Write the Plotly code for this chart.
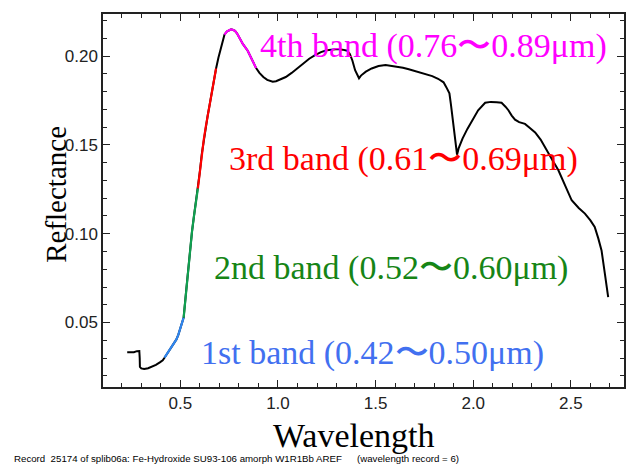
import plotly.graph_objects as go

# ---- data ----
wavelength = [
    0.228, 0.245, 0.262, 0.278, 0.290, 0.292, 0.293, 0.300, 0.315, 0.335,
    0.355, 0.375, 0.395, 0.410, 0.419, 0.430, 0.445, 0.460, 0.470, 0.480,
    0.490, 0.500, 0.510, 0.517, 0.530, 0.540, 0.550, 0.560, 0.570, 0.580,
    0.590, 0.600, 0.610, 0.620, 0.630, 0.640, 0.650, 0.660, 0.670, 0.683,
    0.695, 0.705, 0.715, 0.726, 0.738, 0.750, 0.760, 0.768, 0.780, 0.790,
    0.800, 0.820, 0.845, 0.865, 0.888, 0.905, 0.925, 0.945, 0.960, 0.973,
    0.990, 1.010, 1.040, 1.070, 1.100, 1.130, 1.160, 1.190, 1.220, 1.250,
    1.280, 1.306, 1.330, 1.355, 1.368, 1.381, 1.395, 1.408, 1.415, 1.425,
    1.450, 1.480, 1.515, 1.551, 1.580, 1.610, 1.640, 1.670, 1.700, 1.730,
    1.760, 1.790, 1.820, 1.848, 1.862, 1.878, 1.886, 1.894, 1.902, 1.910,
    1.917, 1.925, 1.945, 1.970, 1.995, 2.025, 2.061, 2.090, 2.120, 2.145,
    2.165, 2.180, 2.197, 2.214, 2.235, 2.265, 2.290, 2.317, 2.345, 2.368,
    2.400, 2.436, 2.470, 2.504, 2.540, 2.572, 2.600, 2.622, 2.640, 2.657,
    2.674, 2.691,
]
reflectance = [
    0.0333, 0.0331, 0.0333, 0.0339, 0.0340, 0.0300, 0.0250, 0.0242, 0.0238, 0.0243,
    0.0252, 0.0262, 0.0276, 0.0288, 0.0302, 0.0322, 0.0348, 0.0375, 0.0392, 0.0405,
    0.0432, 0.0470, 0.0500, 0.0528, 0.0680, 0.0800, 0.0915, 0.1015, 0.1100, 0.1180,
    0.1255, 0.1350, 0.1450, 0.1530, 0.1600, 0.1665, 0.1725, 0.1790, 0.1850, 0.1930,
    0.1990, 0.2030, 0.2075, 0.2120, 0.2138, 0.2145, 0.2150, 0.2148, 0.2142, 0.2128,
    0.2108, 0.2068, 0.2030, 0.1985, 0.1932, 0.1905, 0.1882, 0.1866, 0.1858, 0.1855,
    0.1858, 0.1866, 0.1882, 0.1905, 0.1932, 0.1958, 0.1985, 0.2005, 0.2022, 0.2032,
    0.2038, 0.2040, 0.2036, 0.2030, 0.2012, 0.1975, 0.1920, 0.1885, 0.1875, 0.1890,
    0.1912, 0.1930, 0.1944, 0.1950, 0.1946, 0.1940, 0.1934, 0.1926, 0.1917, 0.1907,
    0.1897, 0.1887, 0.1872, 0.1852, 0.1825, 0.1790, 0.1725, 0.1658, 0.1580, 0.1500,
    0.1445, 0.1480, 0.1535, 0.1590, 0.1640, 0.1695, 0.1737, 0.1742, 0.1740, 0.1737,
    0.1715, 0.1695, 0.1665, 0.1642, 0.1628, 0.1618, 0.1595, 0.1570, 0.1530, 0.1489,
    0.1425, 0.1357, 0.1275, 0.1188, 0.1145, 0.1113, 0.1075, 0.1038, 0.0975, 0.0906,
    0.0775, 0.0643,
]

# highlighted stretches of the curve, as drawn in the reference
segment_names = ["1st band", "2nd band", "3rd band", "4th band"]
segment_start = [0.419, 0.517, 0.590, 0.726]
segment_end = [0.517, 0.590, 0.683, 0.888]

band_labels = [
    "1st band (0.42〜0.50μm)",
    "2nd band (0.52〜0.60μm)",
    "3rd band (0.61〜0.69μm)",
    "4th band (0.76〜0.89μm)",
]
label_x = [0.597, 0.664, 0.741, 0.896]
label_y = [0.0330, 0.0808, 0.1420, 0.2054]

x_ticks = [0.5, 1.0, 1.5, 2.0, 2.5]
y_ticks = [0.05, 0.10, 0.15, 0.20]

caption_left = "Record  25174 of splib06a: Fe-Hydroxide SU93-106 amorph W1R1Bb AREF"
caption_right = "(wavelength record = 6)"

# ---- styles ----
line_colors = ["#2f86f0", "#10a050", "#ff0000", "#ff00ff"]
text_colors = ["#4270f0", "#168516", "#ff0000", "#ff00ff"]
SERIF = "Liberation Serif, Times New Roman, serif"
SANS = "Liberation Sans, Arial, sans-serif"

fig = go.Figure()
fig.add_trace(go.Scatter(x=wavelength, y=reflectance, mode="lines",
                         line=dict(color="black", width=2), showlegend=False,
                         hoverinfo="skip"))
for name, lo, hi, col in zip(segment_names, segment_start, segment_end, line_colors):
    xs = [w for w in wavelength if lo <= w <= hi]
    ys = [r for w, r in zip(wavelength, reflectance) if lo <= w <= hi]
    fig.add_trace(go.Scatter(x=xs, y=ys, mode="lines", name=name,
                             line=dict(color=col, width=2.2), showlegend=False))

for txt, lx, ly, col in zip(band_labels, label_x, label_y, text_colors):
    fig.add_annotation(x=lx, y=ly, xref="x", yref="y", text=txt, showarrow=False,
                       xanchor="left", yanchor="middle",
                       font=dict(family=SERIF, size=34, color=col))

fig.add_annotation(x=-0.0918, y=0.5157, xref="paper", yref="paper", text="Reflectance",
                   textangle=-90, showarrow=False, xanchor="center", yanchor="middle",
                   font=dict(family=SERIF, size=29, color="black"))
fig.add_annotation(x=0.4818, y=-0.1312, xref="paper", yref="paper", text="Wavelength",
                   showarrow=False, xanchor="center", yanchor="middle",
                   font=dict(family=SERIF, size=34, color="black"))
cap_font = dict(family=SANS, size=9.7, color="black")
fig.add_annotation(x=-0.174, y=-0.1913, xref="paper", yref="paper", text=caption_left,
                   showarrow=False, xanchor="left", yanchor="middle", font=cap_font)
fig.add_annotation(x=0.4837, y=-0.1913, xref="paper", yref="paper", text=caption_right,
                   showarrow=False, xanchor="left", yanchor="middle", font=cap_font)

axis_common = dict(showline=True, mirror="ticks", linecolor="#222", linewidth=1.5,
                   ticks="inside", ticklen=7, tickwidth=1.2, tickcolor="#222",
                   showgrid=False, zeroline=False,
                   tickfont=dict(family=SANS, size=17, color="#222"))
fig.update_xaxes(range=[0.104, 2.772], tickvals=x_ticks, tickformat=".1f",
                 minor=dict(dtick=0.1, ticks="inside", ticklen=4, tickcolor="#222",
                            tick0=0.0, showgrid=False),
                 **axis_common)
fig.update_yaxes(range=[0.01372, 0.22366], tickvals=y_ticks, tickformat=".2f",
                 minor=dict(dtick=0.01, ticks="inside", ticklen=4, tickcolor="#222",
                            tick0=0.0, showgrid=False),
                 **axis_common)

fig.update_layout(width=627, height=468, margin=dict(l=103, r=1, t=14, b=81),
                  plot_bgcolor="white", paper_bgcolor="white", showlegend=False)

fig.write_html("out.html", config={"displayModeBar": False},
               post_script="document.body.style.margin='0';document.body.style.overflow='hidden';")
